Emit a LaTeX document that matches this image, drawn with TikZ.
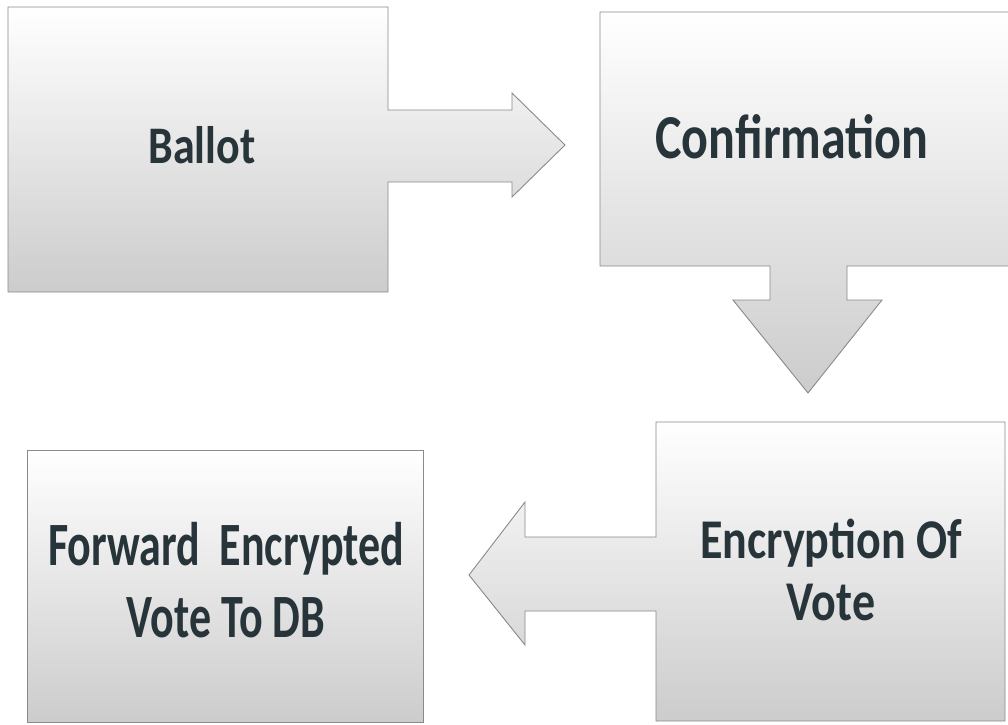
\documentclass[tikz,border=0pt]{standalone}
\usepackage{fontspec}
\setmainfont{Carlito}
\definecolor{ink}{HTML}{27343A}
\definecolor{edge}{HTML}{8A8A8A}
\tikzset{
  stage/.style={draw=edge, line width=0.9pt, line join=miter,
    top color=white, bottom color=black!20},
  lbl/.style={text=ink, inner sep=0pt, font=\bfseries}
}
\newcommand{\tallstack}[3]{\scalebox{1}[#1]{\fontsize{#2}{#2}\selectfont\begin{tabular}{@{}c@{}}#3\end{tabular}}}
\begin{document}
\begin{tikzpicture}[x=1pt,y=-1pt]
  \useasboundingbox (0,0) rectangle (1008,724);
  \fill[white] (0,0) rectangle (1008,724);
  \begin{scope}
    \clip (0,0) rectangle (1008,724);

    % Ballot box with its arrow to the right
    \coordinate (b1) at (8,7);
    \coordinate (b2) at (388,292);
    \draw[stage] (b1) -- (b2 |- b1) -- (388,110) -- (512,110) -- (512,93)
      -- (565,145) -- (512,197) -- (512,182) -- (388,182) -- (b2)
      -- (b1 |- b2) -- cycle;

    % Confirmation box with its arrow downwards
    \coordinate (c1) at (600,12);
    \coordinate (c2) at (1014,266);
    \draw[stage] (c1) -- (c2 |- c1) -- (c2) -- (847,266) -- (847,300)
      -- (882,300) -- (808,393) -- (733,300) -- (770,300) -- (770,266)
      -- (c1 |- c2) -- cycle;

    % Encryption box with its arrow to the left
    \coordinate (e1) at (656,422);
    \coordinate (e2) at (1005,721);
    \draw[stage] (e1) -- (e2 |- e1) -- (e2) -- (e1 |- e2) -- (656,611)
      -- (525,611) -- (525,645) -- (469,575) -- (525,502) -- (525,537)
      -- (656,537) -- cycle;

    % Final box
    \coordinate (f1) at (27,450);
    \coordinate (f2) at (423,722);
    \draw[stage] (f1) rectangle (f2);
  \end{scope}

  \node[lbl] (ballot) at (202,153) {\tallstack{1.2}{44}{Ballot}};
  \node[lbl] (confirm) at (792,146) {\tallstack{1.25}{50}{Confirmation}};
  \node[lbl] (encrypt) at (831,578) {\tallstack{1.22}{46}{Encryption Of\\[5pt]Vote}};
  \node[lbl] (forward) at (226,589) {\tallstack{1.4}{44}{Forward\ \ Encrypted\\[7pt]Vote To DB}};
\end{tikzpicture}
\end{document}
